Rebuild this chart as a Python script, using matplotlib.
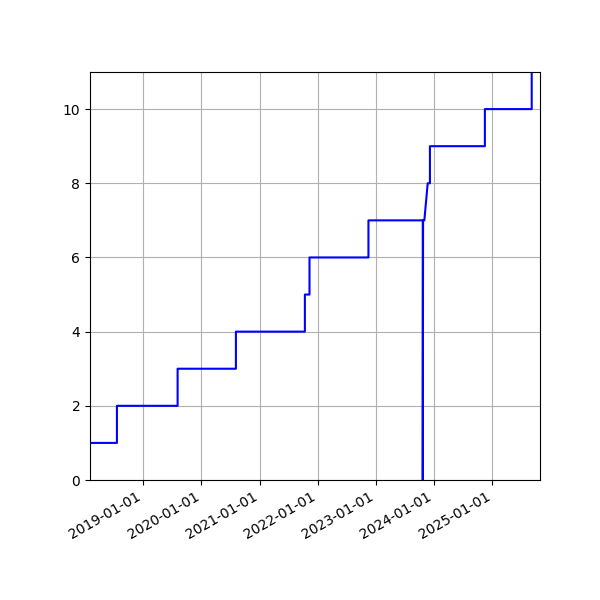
import matplotlib
matplotlib.use("Agg")
import matplotlib.pyplot as plt
import matplotlib.dates as mdates
import numpy as np

dates = np.array([
    "2018-02-01", "2018-07-20", "2018-07-20", "2019-08-05", "2019-08-05",
    "2020-08-05", "2020-08-05", "2021-10-12", "2021-10-12", "2021-11-10",
    "2021-11-10", "2022-11-15", "2022-11-15", "2023-10-22", "2023-10-22",
    "2023-10-24", "2023-11-01", "2023-11-22", "2023-12-06", "2023-12-06",
    "2024-11-15", "2024-11-15", "2025-09-05", "2025-09-05",
], dtype="datetime64[D]")
counts = [1, 1, 2, 2, 3, 3, 4, 4, 5, 5, 6, 6, 7, 7, 0, 7, 7, 8, 8, 9, 9, 10, 10, 12]

fig = plt.figure(figsize=(6, 6), dpi=100)
ax = fig.add_axes([0.15, 0.2, 0.75, 0.68])
ax.plot(dates, counts, color="blue")
ax.set_xlim(np.datetime64("2018-02-01"), np.datetime64("2025-10-27"))
ax.set_ylim(0, 11)
ax.xaxis.set_major_locator(mdates.YearLocator())
ax.xaxis.set_major_formatter(mdates.DateFormatter("%Y-%m-%d"))
ax.grid(True)
for lbl in ax.get_xticklabels():
    lbl.set_rotation(30)
    lbl.set_ha("right")
fig.savefig("out.png")
